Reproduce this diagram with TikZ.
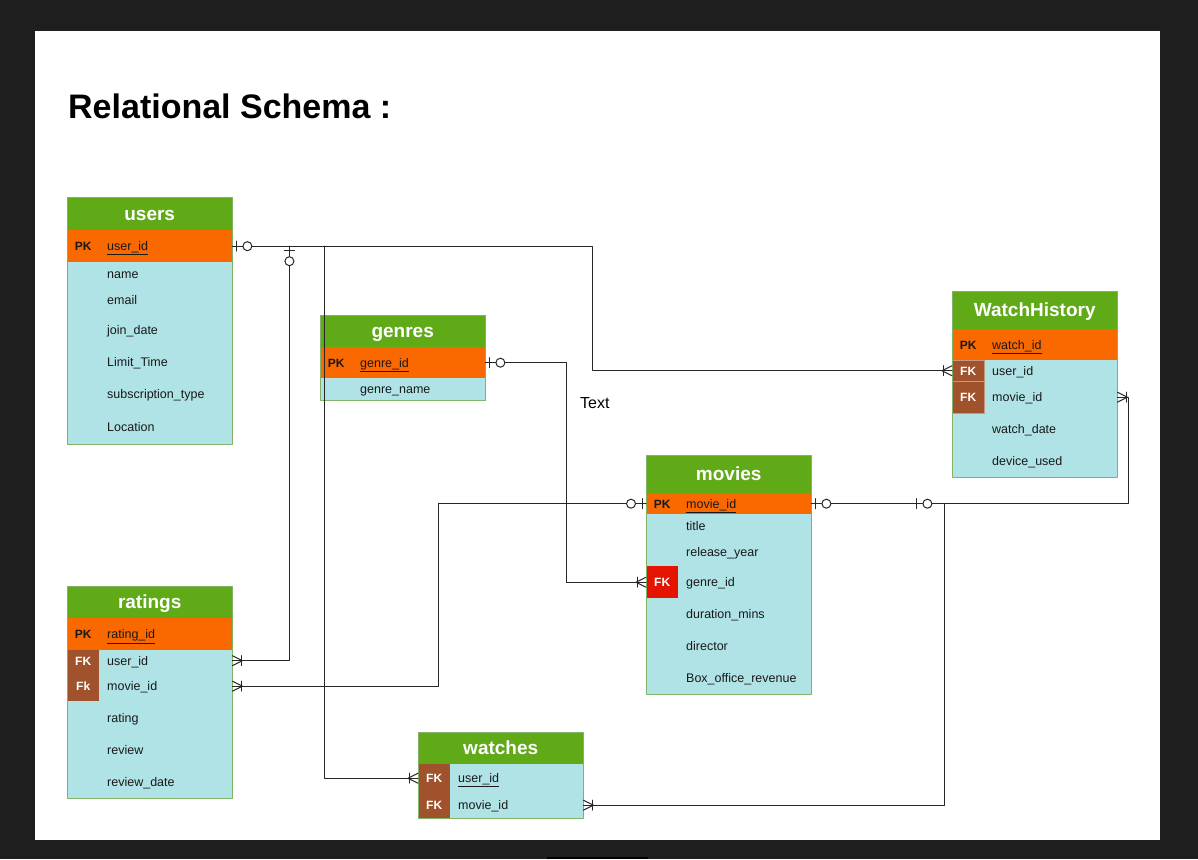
\documentclass[tikz,border=0pt]{standalone}
\usepackage{fontspec}
\setmainfont{Liberation Sans}
\usetikzlibrary{calc,decorations.markings}

\definecolor{pagebg}{HTML}{1E1E1E}
\definecolor{hdrgreen}{HTML}{60A917}
\definecolor{pkorange}{HTML}{FA6800}
\definecolor{rowblue}{HTML}{B0E3E6}
\definecolor{fkbrown}{HTML}{A0522D}
\definecolor{fkred}{HTML}{E51400}
\definecolor{tblline}{HTML}{82B366}

\newcommand{\fldfont}{\fontsize{12.5}{15}\selectfont}
\newcommand{\keyfont}{\fontsize{12}{14}\selectfont\bfseries}
\newcommand{\pk}{\makebox[32pt]{\keyfont PK}\hspace{8pt}}
\newcommand{\nokey}{\hspace*{40pt}}

\tikzset{
	tblhead/.style={anchor=north west, minimum width=165pt, inner sep=0pt,
		text height=16pt, text depth=3pt,
		fill=hdrgreen, text=white, font=\fontsize{19}{22}\selectfont\bfseries},
	tblrow/.style={anchor=north west, minimum width=165pt, text width=165pt,
		inner sep=0pt, align=left, text height=11pt, text depth=2pt,
		fill=rowblue, text=black!90, font=\fldfont},
	pkrow/.style={tblrow, fill=pkorange},
	fkbox/.style={anchor=north west, minimum width=32pt, inner sep=0pt,
		text height=11pt, text depth=2pt,
		fill=fkbrown, text=white, font=\keyfont},
	tblframe/.style={draw=tblline, line width=0.8pt},
	rel/.style={draw=black!85, line width=1pt},
	zero one/.style={postaction={decorate, decoration={markings, mark=at position 0 with {
					\draw (4pt,-5pt) -- (4pt,5pt);
					\draw[fill=white] (15pt,0) circle (4.5pt);}}}},
	one many/.style={postaction={decorate, decoration={markings, mark=at position 1 with {
					\draw (-9pt,-5pt) -- (-9pt,5pt);
					\draw (0,5pt) -- (-10pt,0) -- (0,-5pt);}}}},
}

\begin{document}
\begin{tikzpicture}[x=1pt,y=-1pt,line cap=round,line join=round]
	\useasboundingbox (0,0) rectangle (1198,859);
	\fill[pagebg] (0,0) rectangle (1198,859);
	\fill[white] (35,31) rectangle (1160,840);
	\fill[black] (547,857) rectangle (648,859);
	
	\node[anchor=west, inner sep=0pt, font=\fontsize{34}{40}\selectfont\bfseries] (title) at (68,106) {Relational Schema :};
	\node[anchor=west, inner sep=0pt, font=\fontsize{16}{19}\selectfont] (lbl) at (580,403) {Text};
	
	% users
	\node[tblhead, minimum height=33pt] (users) at (67,197) {users};
	\node[pkrow, minimum height=32pt] (users-uid) at (67,230) {\pk\underline{user\_id}};
	\foreach \n/\y/\h/\f in {name/262/24/name, email/286/28/email, join/314/32/join\_date,
		limit/346/32/Limit\_Time, sub/378/31/subscription\_type, loc/409/35/Location}
	\node[tblrow, minimum height=\h pt] (users-\n) at (67,\y) {\nokey\f};
	\draw[tblframe] (users.north west) rectangle (users-loc.south east);
	
	% genres
	\node[tblhead, minimum height=32pt] (genres) at (320,315) {genres};
	\node[pkrow, minimum height=31pt] (genres-gid) at (320,347) {\pk\underline{genre\_id}};
	\node[tblrow, minimum height=22pt] (genres-name) at (320,378) {\nokey genre\_name};
	\draw[tblframe] (genres.north west) rectangle (genres-name.south east);
	
	% WatchHistory
	\node[tblhead, minimum height=38pt] (wh) at (952,291) {WatchHistory};
	\node[pkrow, minimum height=31pt] (wh-wid) at (952,329) {\pk\underline{watch\_id}};
	\foreach \n/\y/\h/\f in {uid/360/21/user\_id, mid/381/32/movie\_id,
		date/413/32/watch\_date, dev/445/32/device\_used}
	\node[tblrow, minimum height=\h pt] (wh-\n) at (952,\y) {\nokey\f};
	\node[fkbox, minimum height=21pt, draw=fkbrown!60!white] (wh-fk1) at (952,360) {FK};
	\node[fkbox, minimum height=32pt, draw=fkbrown!60!white] (wh-fk2) at (952,381) {FK};
	\draw[tblframe] (wh.north west) rectangle (wh-dev.south east);
	
	% movies
	\node[tblhead, minimum height=38pt] (movies) at (646,455) {movies};
	\node[pkrow, minimum height=21pt] (movies-mid) at (646,493) {\pk\underline{movie\_id}};
	\foreach \n/\y/\h/\f in {title/514/24/title, year/538/28/release\_year, gid/566/32/genre\_id,
		dur/598/32/duration\_mins, dir/630/32/director, rev/662/32/Box\_office\_revenue}
	\node[tblrow, minimum height=\h pt] (movies-\n) at (646,\y) {\nokey\f};
	\node[fkbox, fill=fkred, minimum height=32pt] (movies-fk) at (646,566) {FK};
	\draw[tblframe] (movies.north west) rectangle (movies-rev.south east);
	
	% ratings
	\node[tblhead, minimum height=32pt] (ratings) at (67,586) {ratings};
	\node[pkrow, minimum height=32pt] (ratings-rid) at (67,618) {\pk\underline{rating\_id}};
	\foreach \n/\y/\h/\f in {uid/650/21/user\_id, mid/671/30/movie\_id, rating/701/33/rating,
		review/734/31/review, date/765/33/review\_date}
	\node[tblrow, minimum height=\h pt] (ratings-\n) at (67,\y) {\nokey\f};
	\node[fkbox, minimum height=21pt] (ratings-fk1) at (67,650) {FK};
	\node[fkbox, minimum height=30pt] (ratings-fk2) at (67,671) {Fk};
	\draw[tblframe] (ratings.north west) rectangle (ratings-date.south east);
	
	% watches
	\node[tblhead, minimum height=32pt] (watches) at (418,732) {watches};
	\node[tblrow, minimum height=28pt] (watches-uid) at (418,764) {\nokey\underline{user\_id}};
	\node[tblrow, minimum height=26pt] (watches-mid) at (418,792) {\nokey movie\_id};
	\node[fkbox, minimum height=28pt] (watches-fk1) at (418,764) {FK};
	\node[fkbox, minimum height=26pt] (watches-fk2) at (418,792) {FK};
	\draw[tblframe] (watches.north west) rectangle (watches-mid.south east);
	
	% relations
	\draw[rel, zero one, one many] (users-uid.east) -- ++(360,0) |- (wh-uid.west);
	\coordinate (ubr1) at ($(users-uid.east)+(57,0)$);
	\coordinate (ubr2) at ($(users-uid.east)+(92,0)$);
	\draw[rel, zero one, one many] (ubr1) |- (ratings-uid.east);
	\draw[rel, one many] (ubr2) |- (watches-uid.west);
	\draw[rel, zero one, one many] (genres-gid.east) -- ++(81,0) |- (movies-gid.west);
	\draw[rel, zero one, one many] (movies-mid.west) -- ++(-208,0) |- (ratings-mid.east);
	\draw[rel, zero one, one many] (movies-mid.east) -- ++(317,0) |- (wh-mid.east);
	\coordinate (mbr) at ($(movies-mid.east)+(101,0)$);
	\draw[rel, zero one, one many] (mbr) -- ++(32,0) |- (watches-mid.east);
\end{tikzpicture}
\end{document}
